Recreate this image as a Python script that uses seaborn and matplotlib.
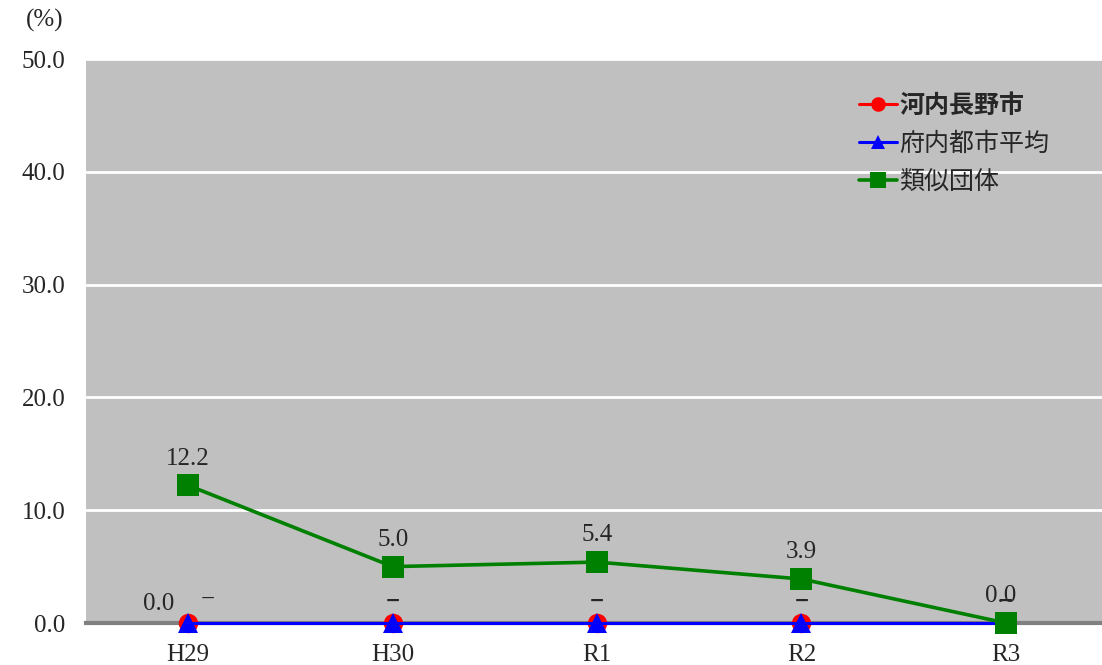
import matplotlib
matplotlib.use("Agg")
import matplotlib.pyplot as plt
import seaborn as sns
import pandas as pd

# datos del gráfico
anios = ['H29', 'H30', 'R1', 'R2', 'R3']
kawachinagano = [0.0, 0.0, 0.0, 0.0, 0.0]
fuunai_promedio = [0.0, 0.0, 0.0, 0.0, 0.0]
ruiji_dantai = [12.2, 5.0, 5.4, 3.9, 0.0]
etiquetas_kawachinagano = ['0.0', '−', '−', '−', '−']
etiquetas_fuunai = ['−', '−', '−', '−', '−']
etiquetas_ruiji = ['12.2', '5.0', '5.4', '3.9', '0.0']
series = ['河内長野市', '府内都市平均', '類似団体']
ticks_y = [0, 10, 20, 30, 40, 50]

sns.set_theme(style='white')
plt.rcParams['font.family'] = ['Liberation Serif', 'Noto Sans CJK JP', 'DejaVu Sans']
tam_letra = 18

fig = plt.figure(figsize=(11.02, 6.65), dpi=100)
ax = fig.add_axes([86 / 1102, 1 - 623 / 665, 1 - 86 / 1102, (623 - 59) / 665])
ax.set_facecolor('#C0C0C0')

df = pd.DataFrame({'anio': anios, series[0]: kawachinagano,
                   series[1]: fuunai_promedio, series[2]: ruiji_dantai})

estilos = [('red', 'o', 14, 2.2), ('blue', '^', 14, 2.2), ('green', 's', 16, 2.6)]
for nombre, (color, marcador, tam, grosor) in zip(series, estilos):
    sns.lineplot(data=df, x='anio', y=nombre, ax=ax, color=color, marker=marcador,
                 markersize=tam, markeredgewidth=0, linewidth=grosor,
                 label=nombre, zorder=3, clip_on=False)

# etiquetas de datos
for i, (v, t) in enumerate(zip(kawachinagano, etiquetas_kawachinagano)):
    if t == '−':
        ax.annotate(t, (i, v), xytext=(0, 11), textcoords='offset points', ha='center', fontsize=tam_letra)
    else:
        ax.annotate(t, (i, v), xytext=(-21, 9), textcoords='offset points', ha='center', fontsize=tam_letra)
for i, (v, t) in enumerate(zip(fuunai_promedio, etiquetas_fuunai)):
    dx = 14 if i == 0 and etiquetas_kawachinagano[i] != '−' else 0
    ax.annotate(t, (i, v), xytext=(dx, 12 if dx else 10), textcoords='offset points',
                ha='center', fontsize=tam_letra)
for i, (v, t) in enumerate(zip(ruiji_dantai, etiquetas_ruiji)):
    ax.annotate(t, (i, v), xytext=(-4 if i == len(anios) - 1 else 0, 15), textcoords='offset points',
                ha='center', fontsize=tam_letra)

ax.set_xlim(-0.5, 4.47)
ax.set_ylim(0, 50)
ax.set_yticks(ticks_y)
ax.set_yticklabels([f'{t:.1f}' for t in ticks_y], fontsize=tam_letra)
ax.tick_params(axis='y', length=0, pad=15)
ax.tick_params(axis='x', length=0, pad=15, labelsize=tam_letra)
ax.set_xticks(range(len(anios)))
ax.set_xticks([0.5, 1.5, 2.5, 3.5], minor=True)
ax.tick_params(axis='x', which='minor', direction='in', length=6, width=3, color='#808080')
ax.set_xlabel('')
ax.set_ylabel('')
ax.yaxis.grid(True, color='white', linewidth=2)
ax.set_axisbelow(True)
for lado in ['top', 'right', 'left']:
    ax.spines[lado].set_visible(False)
ax.spines['bottom'].set_color('#808080')
ax.spines['bottom'].set_linewidth(3)

fig.text(45 / 1102, 1 - 20 / 665, '(%)', ha='center', va='center', fontsize=tam_letra)

leg = ax.legend(loc='upper left', bbox_to_anchor=(0.739, 0.978), frameon=False,
                prop={'family': ['Noto Sans CJK JP'], 'size': 18},
                handlelength=1.5, handletextpad=0.1, labelspacing=0.5,
                markerscale=0.75)
leg.get_texts()[0].set_fontweight('bold')

fig.savefig('out.png', dpi=100)
